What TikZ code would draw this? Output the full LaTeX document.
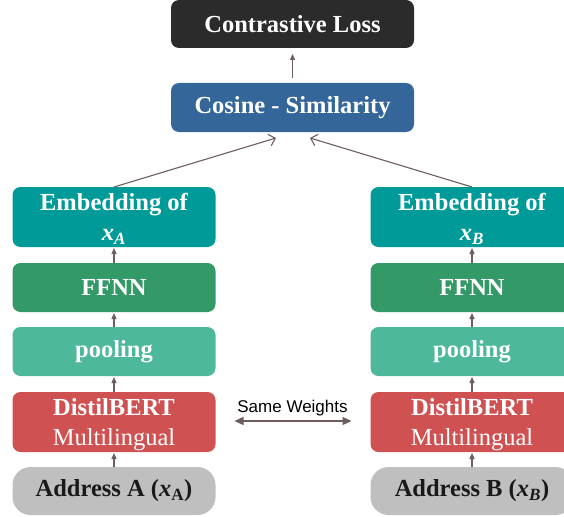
\documentclass[tikz,border=0pt]{standalone}
\usepackage{fontspec}
\setmainfont{Liberation Serif}
\newfontfamily\swfont{Liberation Sans}
\usetikzlibrary{arrows.meta}
\definecolor{losscol}{HTML}{2B2B2B}
\definecolor{coscol}{HTML}{346699}
\definecolor{embcol}{HTML}{009A99}
\definecolor{ffnncol}{HTML}{339966}
\definecolor{poolcol}{HTML}{4DB99A}
\definecolor{bertcol}{HTML}{CF5151}
\definecolor{addrcol}{HTML}{BFBFBF}
\definecolor{arrcol}{HTML}{6D5D5D}
\begin{document}
\begin{tikzpicture}[x=1pt,y=-1pt,
    blk/.style={rounded corners=8pt, minimum width=203pt, inner sep=0pt, outer sep=0pt,
      align=center, text=white, font=\fontsize{24.5}{30}\selectfont\bfseries},
    twoline/.style={minimum height=60pt, text depth=0pt},
    upar/.style={-{Triangle[length=6pt,width=5pt]}, line width=1.2pt, draw=arrcol},
    slant/.style={-{Straight Barb[length=6pt,width=12pt]}, line width=1.1pt, draw=arrcol}]
    \useasboundingbox (0,0) rectangle (564,516);
    \clip (0,0) rectangle (564,516);
    % top
    \node[blk, fill=losscol, minimum width=243pt, minimum height=48pt] (loss) at (292.5,24) {Contrastive Loss};
    \node[blk, fill=coscol, minimum width=243pt, minimum height=49pt] (cos) at (292.5,107.5) {Cosine - Similarity};
    % left tower
    \node[blk, fill=embcol, twoline] (embA) at (114,217) {Embedding of\\\textit{x}\textsubscript{\textit{A}}};
    \node[blk, fill=ffnncol, minimum height=49pt] (ffnnA) at (114,287.5) {FFNN};
    \node[blk, fill=poolcol, minimum height=49pt] (poolA) at (114,351.5) {pooling};
    \node[blk, fill=bertcol, twoline] (bertA) at (114,422) {DistilBERT\\\mdseries Multilingual};
    \node[blk, fill=addrcol, text=black!90, rounded corners=18pt, minimum height=48pt] (addrA) at (114,491) {Address A (\textit{x}\textsubscript{A})};
    % right tower
    \node[blk, fill=embcol, twoline] (embB) at (472,217) {Embedding of\\\textit{x}\textsubscript{\textit{B}}};
    \node[blk, fill=ffnncol, minimum height=49pt] (ffnnB) at (472,287.5) {FFNN};
    \node[blk, fill=poolcol, minimum height=49pt] (poolB) at (472,351.5) {pooling};
    \node[blk, fill=bertcol, twoline] (bertB) at (472,422) {DistilBERT\\\mdseries Multilingual};
    \node[blk, fill=addrcol, text=black!90, rounded corners=18pt, minimum height=48pt] (addrB) at (472,491) {Address B (\textit{x\textsubscript{B}})};
    % arrows
    \draw[upar, shorten <=5pt, shorten >=6pt] (cos) -- (loss);
    \foreach \s in {A,B} {
        \draw[upar, shorten >=1pt] (addr\s) -- (bert\s);
        \draw[upar, shorten >=1pt] (bert\s) -- (pool\s);
        \draw[upar, shorten >=1pt] (pool\s) -- (ffnn\s);
        \draw[upar, shorten >=1pt] (ffnn\s) -- (emb\s);
    }
    \coordinate (cosL) at (276,138);
    \coordinate (cosR) at (310,138);
    \draw[slant] (embA.north) -- (cosL);
    \draw[slant] (embB.north) -- (cosR);
    % shared weights
    \node[font=\swfont\fontsize{17}{20}\selectfont] (sw) at (292.5,408) {Same Weights};
    \draw[{Triangle[length=9pt,width=8pt]}-{Triangle[length=9pt,width=8pt]}, line width=1.2pt, draw=arrcol,
        shorten <=19pt, shorten >=19pt] ([yshift=1pt]bertA.east) -- ([yshift=1pt]bertB.west);
\end{tikzpicture}
\end{document}
